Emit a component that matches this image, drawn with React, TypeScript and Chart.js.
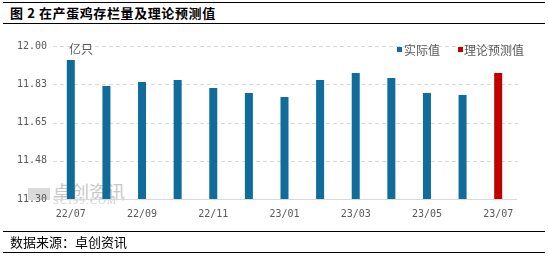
import React, { useEffect, useRef } from "react";
import { Chart, registerables } from "chart.js";

Chart.register(...registerables);

const categories = ["22/07", "22/08", "22/09", "22/10", "22/11", "22/12", "23/01", "23/02", "23/03", "23/04", "23/05", "23/06", "23/07"];
const actualValues: (number | null)[] = [11.936, 11.817, 11.835, 11.844, 11.808, 11.785, 11.767, 11.844, 11.876, 11.854, 11.785, 11.776, null];
const forecastValues: (number | null)[] = [null, null, null, null, null, null, null, null, null, null, null, null, 11.876];
const yTicks = [11.3, 11.475, 11.65, 11.825, 12.0];
const yTickLabels = ["11.30", "11.48", "11.65", "11.83", "12.00"];
const xTickLabels = ["22/07", "", "22/09", "", "22/11", "", "23/01", "", "23/03", "", "23/05", "", "23/07"];
const seriesNames = ["实际值", "理论预测值"];
const titleText = "图 2 在产蛋鸡存栏量及理论预测值";
const sourceText = "数据来源：卓创资讯";
const unitText = "亿只";

const BLUE = "#106C9B";
const RED = "#C00000";
const GRAY = "#595959";
const CJK = '"Noto Sans CJK SC", "Noto Sans", sans-serif';
const MONO = '"DejaVu Sans Mono", "Liberation Mono", monospace';

export default function App() {
  const ref = useRef<HTMLCanvasElement | null>(null);

  useEffect(() => {
    document.body.style.margin = "0";
    const canvas = ref.current;
    if (!canvas) return;
    const chart = new Chart(canvas, {
      type: "bar",
      data: {
        labels: categories,
        datasets: [
          { label: seriesNames[0], data: actualValues, backgroundColor: BLUE, grouped: false, barPercentage: 0.225, categoryPercentage: 1 },
          { label: seriesNames[1], data: forecastValues, backgroundColor: RED, grouped: false, barPercentage: 0.225, categoryPercentage: 1 },
        ],
      },
      options: {
        responsive: false,
        animation: false,
        layout: { padding: { left: 0, right: 32, top: 46, bottom: 0 } },
        plugins: {
          legend: { display: false },
          tooltip: { enabled: false },
          title: { display: false },
        },
        scales: {
          x: {
            grid: { display: false, drawTicks: false },
            border: { display: true, color: "#D9D9D9", width: 1 },
            ticks: {
              autoSkip: false,
              maxRotation: 0,
              padding: 9,
              color: GRAY,
              font: { family: MONO, size: 10 },
              callback: (_v: any, i: number) => xTickLabels[i],
            },
            afterFit: (s: any) => { s.height = 58; },
          },
          y: {
            min: 11.3,
            max: 12.0,
            afterBuildTicks: (s: any) => { s.ticks = yTicks.map((v) => ({ value: v })); },
            grid: { display: false, drawTicks: false },
            border: { display: false },
            ticks: {
              padding: 6,
              color: GRAY,
              font: { family: MONO, size: 10 },
              callback: (_v: any, i: number) => yTickLabels[i],
            },
            afterFit: (s: any) => { s.width = 53; },
          },
        },
      },
      plugins: [
        {
          id: "dashGrid",
          beforeDatasetsDraw: (c: any) => {
            const ctx = c.ctx;
            const ys = c.scales.y;
            const area = c.chartArea;
            ctx.save();
            ctx.strokeStyle = "#D9D9D9";
            ctx.lineWidth = 1;
            ctx.setLineDash([4, 3]);
            yTicks.forEach((v) => {
              if (v === 11.3) return;
              const py = Math.round(ys.getPixelForValue(v)) + 0.5;
              ctx.beginPath();
              ctx.moveTo(area.left, py);
              ctx.lineTo(area.right + 2, py);
              ctx.stroke();
            });
            ctx.restore();
          },
        },
        {
          id: "overlayText",
          afterDraw: (c: any) => {
            const ctx = c.ctx;
            ctx.save();
            ctx.font = `12px ${CJK}`;
            ctx.fillStyle = GRAY;
            ctx.textBaseline = "middle";
            ctx.textAlign = "left";
            ctx.fillText(unitText, 69, 49);
            ctx.fillStyle = BLUE;
            ctx.fillRect(397, 47, 5, 5);
            ctx.fillStyle = GRAY;
            ctx.fillText(seriesNames[0], 404, 50);
            ctx.fillStyle = RED;
            ctx.fillRect(458, 47, 5, 5);
            ctx.fillStyle = GRAY;
            ctx.fillText(seriesNames[1], 464, 50);
            ctx.restore();
          },
        },
      ],
    });
    return () => chart.destroy();
  }, []);

  const line = (top: number): React.CSSProperties => ({
    position: "absolute",
    left: 3,
    width: 542,
    top,
    height: 0,
    borderTop: "1.5px solid #000",
  });

  return (
    <div style={{ position: "relative", width: 548, height: 257, background: "#fff", overflow: "hidden" }}>
      <div style={line(2)} />
      <div style={{ position: "absolute", left: 10, top: 5, fontFamily: CJK, fontSize: 13, fontWeight: 700, lineHeight: "16px", letterSpacing: 0.6, color: "#000", whiteSpace: "pre" }}>
        {titleText}
      </div>
      <div style={line(23)} />
      <div style={{ position: "absolute", left: 28, top: 188, width: 22, height: 12, background: "#DADADA" }} />
      <div style={{ position: "absolute", left: 53, top: 181, fontFamily: CJK, fontSize: 18, lineHeight: "20px", color: "#C8C8C8" }}>卓创资讯</div>
      <div style={{ position: "absolute", left: 53, top: 196, fontFamily: '"Liberation Serif", serif', fontSize: 10, lineHeight: "10px", letterSpacing: 1.5, color: "#CFCFCF" }}>SCI99.COM</div>
      <canvas ref={ref} width={548} height={257} style={{ position: "absolute", left: 0, top: 0, width: 548, height: 257 }} />
      <div style={line(231)} />
      <div style={{ position: "absolute", left: 10, top: 234, fontFamily: CJK, fontSize: 13, lineHeight: "16px", color: "#000" }}>
        {sourceText}
      </div>
      <div style={line(252)} />
    </div>
  );
}
